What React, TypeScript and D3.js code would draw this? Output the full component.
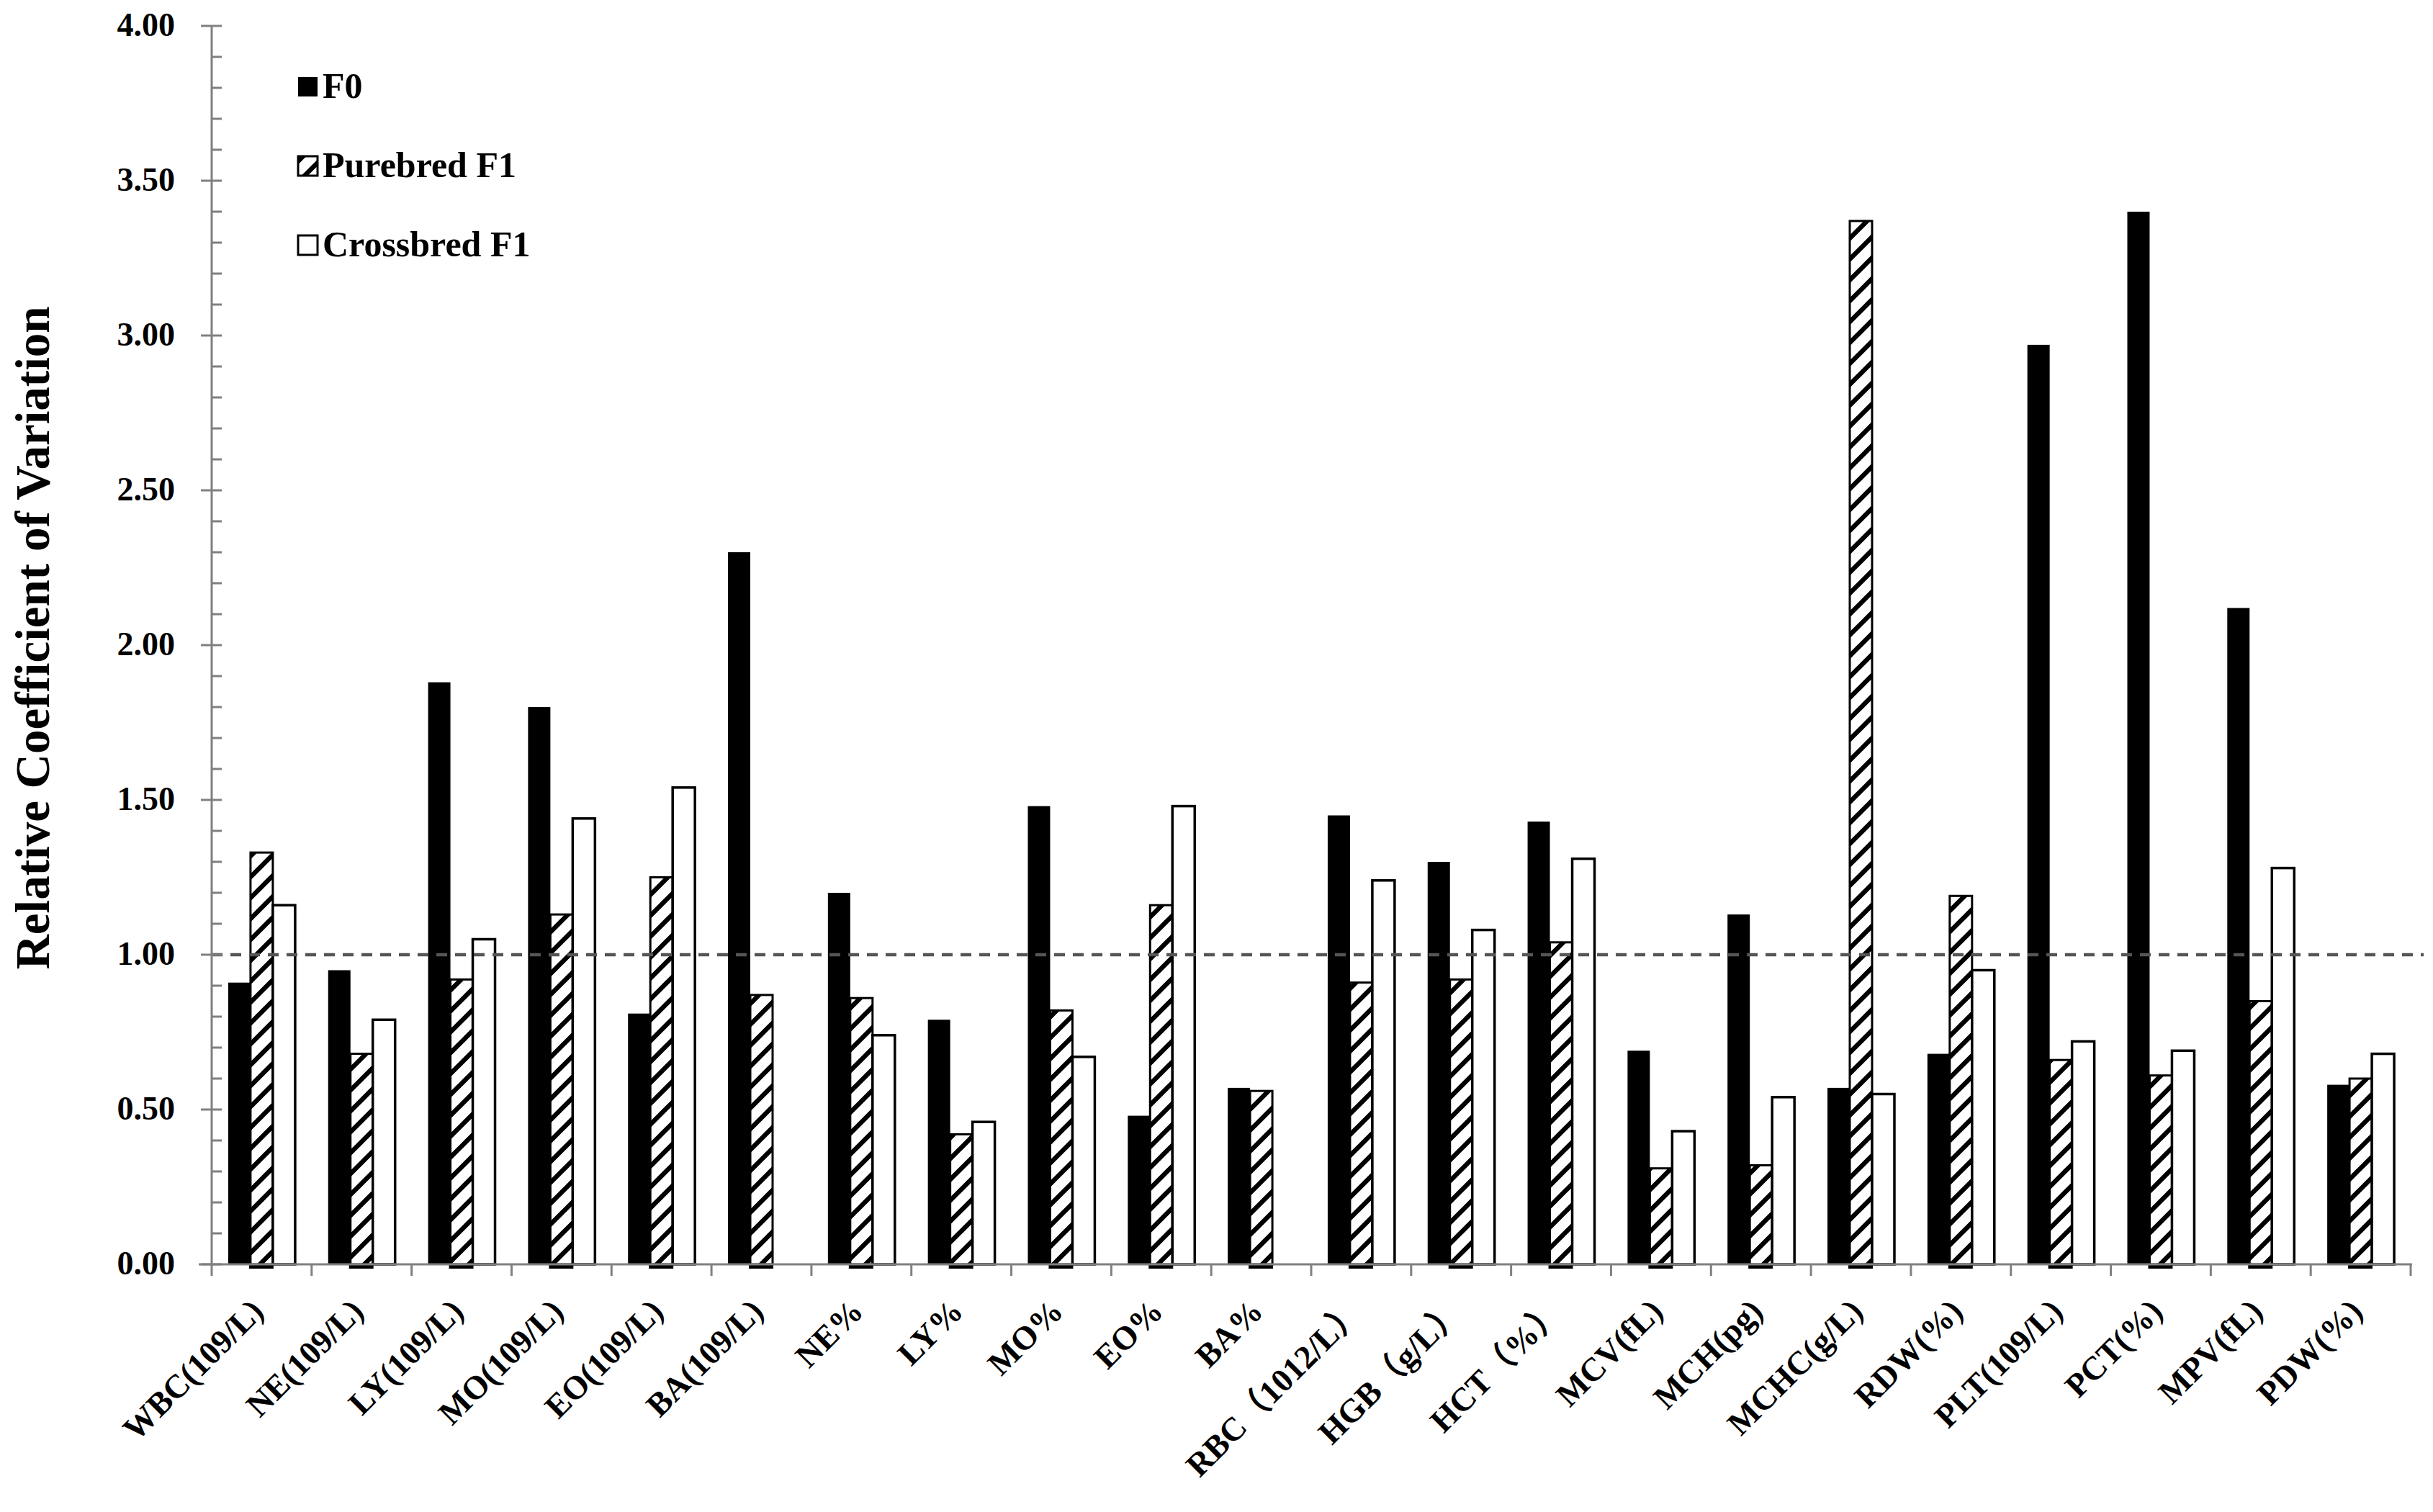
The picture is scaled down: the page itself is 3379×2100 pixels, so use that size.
import React from "react";
import * as d3 from "d3";

const categories = [
  "WBC(109/L)", "NE(109/L)", "LY(109/L)", "MO(109/L)", "EO(109/L)", "BA(109/L)",
  "NE%", "LY%", "MO%", "EO%", "BA%", "RBC（1012/L）", "HGB（g/L）", "HCT（%）",
  "MCV(fL)", "MCH(pg)", "MCHC(g/L)", "RDW(%)", "PLT(109/L)", "PCT(%)", "MPV(fL)", "PDW(%)",
];
const f0 = [0.91, 0.95, 1.88, 1.80, 0.81, 2.30, 1.20, 0.79, 1.48, 0.48, 0.57, 1.45, 1.30, 1.43, 0.69, 1.13, 0.57, 0.68, 2.97, 3.40, 2.12, 0.58];
const purebred = [1.33, 0.68, 0.92, 1.13, 1.25, 0.87, 0.86, 0.42, 0.82, 1.16, 0.56, 0.91, 0.92, 1.04, 0.31, 0.32, 3.37, 1.19, 0.66, 0.61, 0.85, 0.60];
const crossbred: (number | null)[] = [1.16, 0.79, 1.05, 1.44, 1.54, null, 0.74, 0.46, 0.67, 1.48, null, 1.24, 1.08, 1.31, 0.43, 0.54, 0.55, 0.95, 0.72, 0.69, 1.28, 0.68];
const seriesNames = ["F0", "Purebred F1", "Crossbred F1"];
const yTicks = [0, 0.5, 1, 1.5, 2, 2.5, 3, 3.5, 4];
const refValue = 1.0;
const yTitle = "Relative Coefficient of Variation";

const W = 3379, H = 2100;
const X0 = 294, X1 = 3348, Y0 = 1756, Y1 = 36;
const FONT = "'Liberation Serif', 'Times New Roman', 'Noto Sans CJK SC', serif";
const AXIS = "#808080";

export default function App() {
  const x = d3.scaleBand<string>().domain(categories).range([X0, X1]).padding(0);
  const sub = d3.scaleBand<string>().domain(seriesNames).range([0, x.step()]).paddingInner(0).paddingOuter(0.74);
  const y = d3.scaleLinear().domain([0, 4]).range([Y0, Y1]);
  const bw = sub.bandwidth();
  const minor = d3.range(0, 41).map((i) => i / 10).filter((v) => Math.round(v * 10) % 5 !== 0);

  return (
    <svg width={W} height={H} style={{ position: "absolute", left: 0, top: 0, background: "#fff" }}>
      <defs>
        <pattern id="hatch" patternUnits="userSpaceOnUse" width="29" height="29">
          <rect width="29" height="29" fill="#fff" />
          <path d="M-7.25,7.25 L7.25,-7.25 M0,29 L29,0 M21.75,36.25 L36.25,21.75" stroke="#000" strokeWidth="6.5" />
        </pattern>
      </defs>
      <rect width={W} height={H} fill="#fff" />

      {/* bars */}
      {categories.map((c, i) => {
        const bx = x(c)!;
        const a = f0[i], b = purebred[i], cc = crossbred[i];
        return (
          <g key={c}>
            <rect x={bx + sub("F0")!} y={y(a)} width={bw} height={Y0 - y(a)} fill="#000" />
            <rect x={bx + sub("Purebred F1")!} y={y(b)} width={bw} height={Y0 - y(b)} fill="url(#hatch)" stroke="#000" strokeWidth={3} />
            {cc !== null && (
              <rect x={bx + sub("Crossbred F1")!} y={y(cc)} width={bw} height={Y0 - y(cc)} fill="#fff" stroke="#000" strokeWidth={3.5} />
            )}
            <rect x={bx + sub("Purebred F1")! - 2} y={Y0 + 1} width={bw + 3} height={5} fill="#000" />
          </g>
        );
      })}

      {/* reference dashed line */}
      <line x1={X0} x2={3366} y1={y(refValue)} y2={y(refValue)} stroke="#555" strokeWidth={4.5} strokeDasharray="15 11" />

      {/* y axis */}
      <line x1={X0} x2={X0} y1={Y1} y2={Y0} stroke={AXIS} strokeWidth={3} />
      {minor.map((v) => (
        <line key={"m" + v} x1={X0} x2={X0 + 14} y1={y(v)} y2={y(v)} stroke={AXIS} strokeWidth={3} />
      ))}
      {yTicks.map((v) => (
        <g key={"t" + v}>
          <line x1={X0 - 15} x2={X0 + 14} y1={y(v)} y2={y(v)} stroke={AXIS} strokeWidth={3} />
          <text x={243} y={y(v)} dy="0.3em" textAnchor="end" fontFamily={FONT} fontWeight="bold" fontSize={46} fill="#000">
            {v.toFixed(2)}
          </text>
        </g>
      ))}

      {/* x axis */}
      <line x1={X0 - 18} x2={X1 + 2} y1={Y0} y2={Y0} stroke={AXIS} strokeWidth={3} />
      {categories.map((c) => (
        <line key={"xt" + c} x1={x(c)!} x2={x(c)!} y1={Y0} y2={Y0 + 16} stroke={AXIS} strokeWidth={3} />
      ))}
      <line x1={X1} x2={X1} y1={Y0} y2={Y0 + 16} stroke={AXIS} strokeWidth={3} />
      {categories.map((c) => {
        const cx = x(c)! + x.bandwidth() / 2 + 5;
        const cy = 1824;
        return (
          <text key={"xl" + c} transform={`translate(${cx},${cy}) rotate(-45)`} textAnchor="end" fontFamily={FONT} fontWeight="bold" fontSize={46} fill="#000">
            {c}
          </text>
        );
      })}

      {/* y title */}
      <text transform={`translate(68,886) rotate(-90)`} textAnchor="middle" fontFamily={FONT} fontWeight="bold" fontSize={67} fill="#000">
        {yTitle}
      </text>

      {/* legend */}
      {seriesNames.map((s, i) => {
        const base = [136, 246, 356][i];
        const fill = i === 0 ? "#000" : i === 1 ? "url(#hatch)" : "#fff";
        return (
          <g key={"lg" + s}>
            <rect x={414} y={base - 29} width={27} height={27} fill={fill} stroke="#000" strokeWidth={i === 0 ? 0 : 3} />
            <text x={448} y={base} fontFamily={FONT} fontWeight="bold" fontSize={50} fill="#000">
              {s}
            </text>
          </g>
        );
      })}
    </svg>
  );
}
